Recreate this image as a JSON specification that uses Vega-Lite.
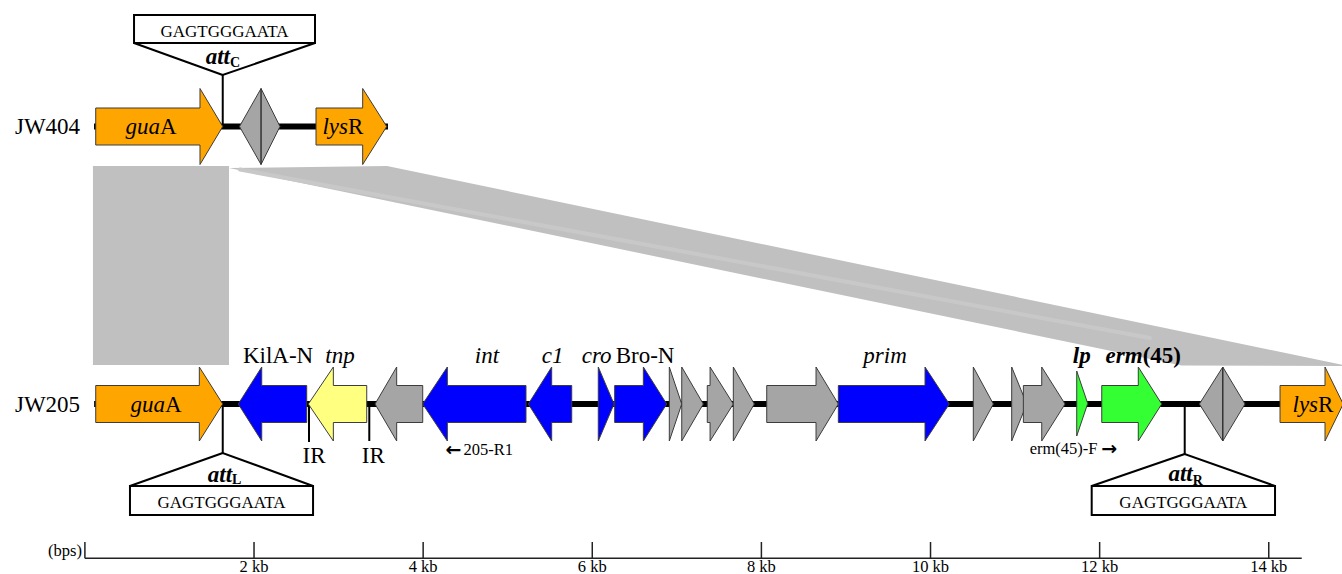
{
  "$schema": "https://vega.github.io/schema/vega-lite/v6.json",
  "width": 1342,
  "height": 574,
  "padding": 0,
  "autosize": {"type": "none"},
  "background": "white",
  "config": {"view": {"stroke": null}, "text": {"font": "Liberation Serif", "color": "black", "baseline": "alphabetic"}},
  "datasets": {
    "band": [
      {"g": "rect", "o": 1, "x": 95, "y": 166}, {"g": "rect", "o": 2, "x": 1704, "y": 166}, {"g": "rect", "o": 3, "x": 1704, "y": 365}, {"g": "rect", "o": 4, "x": 95, "y": 365},
      {"g": "quad", "o": 1, "x": 1704, "y": 168}, {"g": "quad", "o": 2, "x": 3573, "y": 166}, {"g": "quad", "o": 3, "x": 14880, "y": 365}, {"g": "quad", "o": 4, "x": 14880, "y": 366}, {"g": "quad", "o": 5, "x": 12970, "y": 365.5}
    ],
    "stripe": [
      {"o": 1, "x": 1834, "y": 169.5}, {"o": 2, "x": 12596, "y": 338}
    ],
    "backbone": [
      {"x": 108, "x2": 3584, "y": 126.5, "y2": 126.5},
      {"x": 109, "x2": 14880, "y": 404, "y2": 404}
    ],
    "attlines": [
      {"x": 1630, "x2": 1630, "y": 75, "y2": 126.5},
      {"x": 1630, "x2": 1630, "y": 404, "y2": 453},
      {"x": 13006, "x2": 13006, "y": 404, "y2": 454},
      {"x": 2650, "x2": 2650, "y": 404, "y2": 442},
      {"x": 3363, "x2": 3363, "y": 404, "y2": 441}
    ],
    "genes": [
      {"g": "guaA_t", "k": "orange", "o": 1, "x": 128, "y": 108}, {"g": "guaA_t", "k": "orange", "o": 2, "x": 1361, "y": 108}, {"g": "guaA_t", "k": "orange", "o": 3, "x": 1361, "y": 88.5}, {"g": "guaA_t", "k": "orange", "o": 4, "x": 1630, "y": 126.5}, {"g": "guaA_t", "k": "orange", "o": 5, "x": 1361, "y": 164.5}, {"g": "guaA_t", "k": "orange", "o": 6, "x": 1361, "y": 145}, {"g": "guaA_t", "k": "orange", "o": 7, "x": 128, "y": 145},
      {"g": "dia_t", "k": "gray", "o": 1, "x": 1828, "y": 126.5}, {"g": "dia_t", "k": "gray", "o": 2, "x": 2083, "y": 88.5}, {"g": "dia_t", "k": "gray", "o": 3, "x": 2307, "y": 126.5}, {"g": "dia_t", "k": "gray", "o": 4, "x": 2083, "y": 164.5},
      {"g": "lysR_t", "k": "orange", "o": 1, "x": 2733, "y": 108}, {"g": "lysR_t", "k": "orange", "o": 2, "x": 3285, "y": 108}, {"g": "lysR_t", "k": "orange", "o": 3, "x": 3285, "y": 88.5}, {"g": "lysR_t", "k": "orange", "o": 4, "x": 3569, "y": 126.5}, {"g": "lysR_t", "k": "orange", "o": 5, "x": 3285, "y": 164.5}, {"g": "lysR_t", "k": "orange", "o": 6, "x": 3285, "y": 145}, {"g": "lysR_t", "k": "orange", "o": 7, "x": 2733, "y": 145},

      {"g": "guaA_b", "k": "orange", "o": 1, "x": 128, "y": 385.5}, {"g": "guaA_b", "k": "orange", "o": 2, "x": 1353, "y": 385.5}, {"g": "guaA_b", "k": "orange", "o": 3, "x": 1353, "y": 367}, {"g": "guaA_b", "k": "orange", "o": 4, "x": 1630, "y": 404}, {"g": "guaA_b", "k": "orange", "o": 5, "x": 1353, "y": 441}, {"g": "guaA_b", "k": "orange", "o": 6, "x": 1353, "y": 422.5}, {"g": "guaA_b", "k": "orange", "o": 7, "x": 128, "y": 422.5},
      {"g": "kila", "k": "blue", "o": 1, "x": 1814, "y": 404}, {"g": "kila", "k": "blue", "o": 2, "x": 2091, "y": 367}, {"g": "kila", "k": "blue", "o": 3, "x": 2091, "y": 385.5}, {"g": "kila", "k": "blue", "o": 4, "x": 2623, "y": 385.5}, {"g": "kila", "k": "blue", "o": 5, "x": 2623, "y": 422.5}, {"g": "kila", "k": "blue", "o": 6, "x": 2091, "y": 422.5}, {"g": "kila", "k": "blue", "o": 7, "x": 2091, "y": 441},
      {"g": "tnp", "k": "yellow", "o": 1, "x": 2642, "y": 404}, {"g": "tnp", "k": "yellow", "o": 2, "x": 2938, "y": 367}, {"g": "tnp", "k": "yellow", "o": 3, "x": 2938, "y": 385.5}, {"g": "tnp", "k": "yellow", "o": 4, "x": 3333, "y": 385.5}, {"g": "tnp", "k": "yellow", "o": 5, "x": 3333, "y": 422.5}, {"g": "tnp", "k": "yellow", "o": 6, "x": 2938, "y": 422.5}, {"g": "tnp", "k": "yellow", "o": 7, "x": 2938, "y": 441},
      {"g": "g1", "k": "gray", "o": 1, "x": 3431, "y": 404}, {"g": "g1", "k": "gray", "o": 2, "x": 3687, "y": 367}, {"g": "g1", "k": "gray", "o": 3, "x": 3687, "y": 385.5}, {"g": "g1", "k": "gray", "o": 4, "x": 3995, "y": 385.5}, {"g": "g1", "k": "gray", "o": 5, "x": 3995, "y": 422.5}, {"g": "g1", "k": "gray", "o": 6, "x": 3687, "y": 422.5}, {"g": "g1", "k": "gray", "o": 7, "x": 3687, "y": 441},
      {"g": "int", "k": "blue", "o": 1, "x": 3995, "y": 404}, {"g": "int", "k": "blue", "o": 2, "x": 4286, "y": 367}, {"g": "int", "k": "blue", "o": 3, "x": 4286, "y": 385.5}, {"g": "int", "k": "blue", "o": 4, "x": 5216, "y": 385.5}, {"g": "int", "k": "blue", "o": 5, "x": 5216, "y": 422.5}, {"g": "int", "k": "blue", "o": 6, "x": 4286, "y": 422.5}, {"g": "int", "k": "blue", "o": 7, "x": 4286, "y": 441},
      {"g": "c1", "k": "blue", "o": 1, "x": 5244, "y": 404}, {"g": "c1", "k": "blue", "o": 2, "x": 5520, "y": 367}, {"g": "c1", "k": "blue", "o": 3, "x": 5520, "y": 385.5}, {"g": "c1", "k": "blue", "o": 4, "x": 5757, "y": 385.5}, {"g": "c1", "k": "blue", "o": 5, "x": 5757, "y": 422.5}, {"g": "c1", "k": "blue", "o": 6, "x": 5520, "y": 422.5}, {"g": "c1", "k": "blue", "o": 7, "x": 5520, "y": 441},
      {"g": "cro", "k": "blue", "o": 1, "x": 6071, "y": 367}, {"g": "cro", "k": "blue", "o": 2, "x": 6257, "y": 404}, {"g": "cro", "k": "blue", "o": 3, "x": 6071, "y": 441},
      {"g": "bron", "k": "blue", "o": 1, "x": 6265, "y": 385.5}, {"g": "bron", "k": "blue", "o": 2, "x": 6604, "y": 385.5}, {"g": "bron", "k": "blue", "o": 3, "x": 6604, "y": 367}, {"g": "bron", "k": "blue", "o": 4, "x": 6880, "y": 404}, {"g": "bron", "k": "blue", "o": 5, "x": 6604, "y": 441}, {"g": "bron", "k": "blue", "o": 6, "x": 6604, "y": 422.5}, {"g": "bron", "k": "blue", "o": 7, "x": 6265, "y": 422.5},
      {"g": "g2", "k": "gray", "o": 1, "x": 6911, "y": 367}, {"g": "g2", "k": "gray", "o": 2, "x": 7058, "y": 404}, {"g": "g2", "k": "gray", "o": 3, "x": 6911, "y": 441},
      {"g": "g3", "k": "gray", "o": 1, "x": 7058, "y": 367}, {"g": "g3", "k": "gray", "o": 2, "x": 7313, "y": 404}, {"g": "g3", "k": "gray", "o": 3, "x": 7058, "y": 441},
      {"g": "g4", "k": "gray", "o": 1, "x": 7360, "y": 385.5}, {"g": "g4", "k": "gray", "o": 2, "x": 7393, "y": 385.5}, {"g": "g4", "k": "gray", "o": 3, "x": 7393, "y": 367}, {"g": "g4", "k": "gray", "o": 4, "x": 7668, "y": 404}, {"g": "g4", "k": "gray", "o": 5, "x": 7393, "y": 441}, {"g": "g4", "k": "gray", "o": 6, "x": 7393, "y": 422.5}, {"g": "g4", "k": "gray", "o": 7, "x": 7360, "y": 422.5},
      {"g": "g5", "k": "gray", "o": 1, "x": 7668, "y": 367}, {"g": "g5", "k": "gray", "o": 2, "x": 7916, "y": 404}, {"g": "g5", "k": "gray", "o": 3, "x": 7668, "y": 441},
      {"g": "g6", "k": "gray", "o": 1, "x": 8063, "y": 385.5}, {"g": "g6", "k": "gray", "o": 2, "x": 8646, "y": 385.5}, {"g": "g6", "k": "gray", "o": 3, "x": 8646, "y": 367}, {"g": "g6", "k": "gray", "o": 4, "x": 8910, "y": 404}, {"g": "g6", "k": "gray", "o": 5, "x": 8646, "y": 441}, {"g": "g6", "k": "gray", "o": 6, "x": 8646, "y": 422.5}, {"g": "g6", "k": "gray", "o": 7, "x": 8063, "y": 422.5},
      {"g": "prim", "k": "blue", "o": 1, "x": 8910, "y": 385.5}, {"g": "prim", "k": "blue", "o": 2, "x": 9935, "y": 385.5}, {"g": "prim", "k": "blue", "o": 3, "x": 9935, "y": 367}, {"g": "prim", "k": "blue", "o": 4, "x": 10222, "y": 404}, {"g": "prim", "k": "blue", "o": 5, "x": 9935, "y": 441}, {"g": "prim", "k": "blue", "o": 6, "x": 9935, "y": 422.5}, {"g": "prim", "k": "blue", "o": 7, "x": 8910, "y": 422.5},
      {"g": "g7", "k": "gray", "o": 1, "x": 10506, "y": 367}, {"g": "g7", "k": "gray", "o": 2, "x": 10743, "y": 404}, {"g": "g7", "k": "gray", "o": 3, "x": 10506, "y": 441},
      {"g": "g8", "k": "gray", "o": 1, "x": 10960, "y": 367}, {"g": "g8", "k": "gray", "o": 2, "x": 11138, "y": 404}, {"g": "g8", "k": "gray", "o": 3, "x": 10960, "y": 441},
      {"g": "g9", "k": "gray", "o": 1, "x": 11098, "y": 385.5}, {"g": "g9", "k": "gray", "o": 2, "x": 11315, "y": 385.5}, {"g": "g9", "k": "gray", "o": 3, "x": 11315, "y": 367}, {"g": "g9", "k": "gray", "o": 4, "x": 11591, "y": 404}, {"g": "g9", "k": "gray", "o": 5, "x": 11315, "y": 441}, {"g": "g9", "k": "gray", "o": 6, "x": 11315, "y": 422.5}, {"g": "g9", "k": "gray", "o": 7, "x": 11098, "y": 422.5},
      {"g": "lp", "k": "green", "o": 1, "x": 11729, "y": 371}, {"g": "lp", "k": "green", "o": 2, "x": 11859, "y": 403.5}, {"g": "lp", "k": "green", "o": 3, "x": 11729, "y": 436},
      {"g": "erm", "k": "green", "o": 1, "x": 12025, "y": 385.5}, {"g": "erm", "k": "green", "o": 2, "x": 12457, "y": 385.5}, {"g": "erm", "k": "green", "o": 3, "x": 12457, "y": 367}, {"g": "erm", "k": "green", "o": 4, "x": 12734, "y": 404}, {"g": "erm", "k": "green", "o": 5, "x": 12457, "y": 441}, {"g": "erm", "k": "green", "o": 6, "x": 12457, "y": 422.5}, {"g": "erm", "k": "green", "o": 7, "x": 12025, "y": 422.5},
      {"g": "dia_b", "k": "gray", "o": 1, "x": 13179, "y": 404}, {"g": "dia_b", "k": "gray", "o": 2, "x": 13456, "y": 367}, {"g": "dia_b", "k": "gray", "o": 3, "x": 13719, "y": 404}, {"g": "dia_b", "k": "gray", "o": 4, "x": 13456, "y": 441},
      {"g": "lysR_b", "k": "orange", "o": 1, "x": 14133, "y": 385.5}, {"g": "lysR_b", "k": "orange", "o": 2, "x": 14665, "y": 385.5}, {"g": "lysR_b", "k": "orange", "o": 3, "x": 14665, "y": 367}, {"g": "lysR_b", "k": "orange", "o": 4, "x": 14880, "y": 404}, {"g": "lysR_b", "k": "orange", "o": 5, "x": 14665, "y": 441}, {"g": "lysR_b", "k": "orange", "o": 6, "x": 14665, "y": 422.5}, {"g": "lysR_b", "k": "orange", "o": 7, "x": 14133, "y": 422.5}
    ],
    "midlines": [
      {"x": 2083, "x2": 2083, "y": 88.5, "y2": 164.5},
      {"x": 13456, "x2": 13456, "y": 367, "y2": 441}
    ],
    "callouts": [
      {"g": "C", "o": 1, "x": 1630, "y": 75}, {"g": "C", "o": 2, "x": 581, "y": 43}, {"g": "C", "o": 3, "x": 2721, "y": 43},
      {"g": "L", "o": 1, "x": 1630, "y": 453}, {"g": "L", "o": 2, "x": 533, "y": 486}, {"g": "L", "o": 3, "x": 2698, "y": 486},
      {"g": "R", "o": 1, "x": 13006, "y": 454}, {"g": "R", "o": 2, "x": 11906, "y": 486}, {"g": "R", "o": 3, "x": 14074, "y": 486}
    ],
    "boxes": [
      {"x": 581, "x2": 2721, "y": 15, "y2": 43},
      {"x": 533, "x2": 2698, "y": 486, "y2": 515},
      {"x": 11906, "x2": 14074, "y": 486, "y2": 515}
    ],
    "axisline": [
      {"x": 0, "x2": 14390, "y": 558.3, "y2": 558.3}
    ],
    "ticks": [
      {"x": 0, "x2": 0, "y": 542, "y2": 558.3},
      {"x": 2000, "x2": 2000, "y": 542, "y2": 558.3},
      {"x": 4000, "x2": 4000, "y": 542, "y2": 558.3},
      {"x": 6000, "x2": 6000, "y": 542, "y2": 558.3},
      {"x": 8000, "x2": 8000, "y": 542, "y2": 558.3},
      {"x": 10000, "x2": 10000, "y": 542, "y2": 558.3},
      {"x": 12000, "x2": 12000, "y": 542, "y2": 558.3},
      {"x": 14000, "x2": 14000, "y": 542, "y2": 558.3}
    ],
    "t_reg_c": [
      {"t": "JW404", "x": -442, "y": 133.5},
      {"t": "JW205", "x": -442, "y": 411.5},
      {"t": "KilA-N", "x": 2284, "y": 363},
      {"t": "Bro-N", "x": 6624, "y": 363},
      {"t": "IR", "x": 2709, "y": 462.5},
      {"t": "IR", "x": 3411, "y": 462.5}
    ],
    "t_reg_l": [
      {"t": "A", "x": 888, "y": 133.5},
      {"t": "A", "x": 947, "y": 411.5},
      {"t": "R", "x": 3111, "y": 133.5},
      {"t": "R", "x": 14583, "y": 412}
    ],
    "t_it_r": [
      {"t": "gua", "x": 888, "y": 133.5},
      {"t": "gua", "x": 947, "y": 411.5},
      {"t": "lys", "x": 3111, "y": 133.5},
      {"t": "lys", "x": 14583, "y": 412}
    ],
    "t_it_c": [
      {"t": "tnp", "x": 3017, "y": 363},
      {"t": "int", "x": 4755, "y": 363},
      {"t": "c1", "x": 5532, "y": 363},
      {"t": "cro", "x": 6052, "y": 363},
      {"t": "prim", "x": 9462, "y": 363}
    ],
    "t_bi_c": [
      {"t": "lp", "x": 11788, "y": 363}
    ],
    "t_bi_r": [
      {"t": "erm", "x": 12509, "y": 363},
      {"t": "att", "x": 1716, "y": 63.5},
      {"t": "att", "x": 1740, "y": 481.5},
      {"t": "att", "x": 13100, "y": 480.5}
    ],
    "t_b_l": [
      {"t": "(45)", "x": 12509, "y": 363}
    ],
    "t_sub": [
      {"t": "C", "x": 1716, "y": 67},
      {"t": "L", "x": 1740, "y": 484},
      {"t": "R", "x": 13100, "y": 485}
    ],
    "t_seq": [
      {"t": "GAGTGGGAATA", "x": 1651, "y": 36.5},
      {"t": "GAGTGGGAATA", "x": 1615, "y": 508},
      {"t": "GAGTGGGAATA", "x": 12990, "y": 507.5}
    ],
    "t_primer": [
      {"t": "205-R1", "x": 4476, "y": 455},
      {"t": "erm(45)-F", "x": 11173, "y": 453.5}
    ],
    "t_arrow": [
      {"t": "←", "x": 4265, "y": 456},
      {"t": "→", "x": 12020, "y": 454.5}
    ],
    "t_unit": [
      {"t": "(bps)", "x": -34, "y": 555.5}
    ],
    "t_tick": [
      {"t": "2 kb", "x": 2000, "y": 571.5},
      {"t": "4 kb", "x": 4000, "y": 571.5},
      {"t": "6 kb", "x": 6000, "y": 571.5},
      {"t": "8 kb", "x": 8000, "y": 571.5},
      {"t": "10 kb", "x": 10000, "y": 571.5},
      {"t": "12 kb", "x": 12000, "y": 571.5},
      {"t": "14 kb", "x": 14000, "y": 571.5}
    ]
  },
  "encoding": {
    "x": {"field": "x", "type": "quantitative", "scale": {"domain": [-1004, 14866], "nice": false, "zero": false}, "axis": null},
    "y": {"field": "y", "type": "quantitative", "scale": {"domain": [0, 574], "reverse": true, "nice": false, "zero": false}, "axis": null}
  },
  "layer": [
    {
      "data": {"name": "band"},
      "mark": {"type": "line", "filled": true, "fill": "#c0c0c0", "strokeWidth": 0, "interpolate": "linear-closed"},
      "encoding": {"detail": {"field": "g"}, "order": {"field": "o"}}
    },
    {
      "data": {"name": "stripe"},
      "mark": {"type": "line", "stroke": "#c8c8c8", "strokeWidth": 4, "strokeCap": "round"},
      "encoding": {"order": {"field": "o"}}
    },
    {
      "data": {"name": "backbone"},
      "mark": {"type": "rule", "color": "black", "strokeWidth": 6},
      "encoding": {"x2": {"field": "x2"}, "y2": {"field": "y2"}}
    },
    {
      "data": {"name": "attlines"},
      "mark": {"type": "rule", "color": "black", "strokeWidth": 2},
      "encoding": {"x2": {"field": "x2"}, "y2": {"field": "y2"}}
    },
    {
      "data": {"name": "genes"},
      "mark": {"type": "line", "filled": true, "stroke": "#3c3c3c", "strokeWidth": 1, "strokeJoin": "miter", "interpolate": "linear-closed"},
      "encoding": {
        "detail": {"field": "g"},
        "order": {"field": "o"},
        "color": {"field": "k", "type": "nominal", "legend": null,
          "scale": {"domain": ["orange", "gray", "blue", "yellow", "green"], "range": ["#FFA500", "#A5A5A5", "#0000FF", "#FFFF80", "#33FF33"]}}
      }
    },
    {
      "data": {"name": "midlines"},
      "mark": {"type": "rule", "color": "#333333", "strokeWidth": 1.5},
      "encoding": {"x2": {"field": "x2"}, "y2": {"field": "y2"}}
    },
    {
      "data": {"name": "callouts"},
      "mark": {"type": "line", "filled": true, "fill": "white", "stroke": "black", "strokeWidth": 2, "interpolate": "linear-closed"},
      "encoding": {"detail": {"field": "g"}, "order": {"field": "o"}}
    },
    {
      "data": {"name": "boxes"},
      "mark": {"type": "rect", "fill": "white", "stroke": "black", "strokeWidth": 2},
      "encoding": {"x2": {"field": "x2"}, "y2": {"field": "y2"}}
    },
    {
      "data": {"name": "axisline"},
      "mark": {"type": "rule", "color": "#222222", "strokeWidth": 1.5},
      "encoding": {"x2": {"field": "x2"}, "y2": {"field": "y2"}}
    },
    {
      "data": {"name": "ticks"},
      "mark": {"type": "rule", "color": "#222222", "strokeWidth": 1.5},
      "encoding": {"x2": {"field": "x2"}, "y2": {"field": "y2"}}
    },
    {
      "data": {"name": "t_reg_c"},
      "mark": {"type": "text", "fontSize": 23, "align": "center"},
      "encoding": {"text": {"field": "t"}}
    },
    {
      "data": {"name": "t_reg_l"},
      "mark": {"type": "text", "fontSize": 23, "align": "left"},
      "encoding": {"text": {"field": "t"}}
    },
    {
      "data": {"name": "t_it_r"},
      "mark": {"type": "text", "fontSize": 23, "align": "right", "fontStyle": "italic"},
      "encoding": {"text": {"field": "t"}}
    },
    {
      "data": {"name": "t_it_c"},
      "mark": {"type": "text", "fontSize": 23, "align": "center", "fontStyle": "italic"},
      "encoding": {"text": {"field": "t"}}
    },
    {
      "data": {"name": "t_bi_c"},
      "mark": {"type": "text", "fontSize": 23, "align": "center", "fontStyle": "italic", "fontWeight": "bold"},
      "encoding": {"text": {"field": "t"}}
    },
    {
      "data": {"name": "t_bi_r"},
      "mark": {"type": "text", "fontSize": 23, "align": "right", "fontStyle": "italic", "fontWeight": "bold"},
      "encoding": {"text": {"field": "t"}}
    },
    {
      "data": {"name": "t_b_l"},
      "mark": {"type": "text", "fontSize": 23, "align": "left", "fontWeight": "bold"},
      "encoding": {"text": {"field": "t"}}
    },
    {
      "data": {"name": "t_sub"},
      "mark": {"type": "text", "fontSize": 14, "align": "left", "fontWeight": "bold"},
      "encoding": {"text": {"field": "t"}}
    },
    {
      "data": {"name": "t_seq"},
      "mark": {"type": "text", "fontSize": 17, "align": "center"},
      "encoding": {"text": {"field": "t"}}
    },
    {
      "data": {"name": "t_primer"},
      "mark": {"type": "text", "fontSize": 16.5, "align": "left"},
      "encoding": {"text": {"field": "t"}}
    },
    {
      "data": {"name": "t_arrow"},
      "mark": {"type": "text", "fontSize": 19, "align": "left", "font": "DejaVu Sans", "fontWeight": "bold"},
      "encoding": {"text": {"field": "t"}}
    },
    {
      "data": {"name": "t_unit"},
      "mark": {"type": "text", "fontSize": 16.5, "align": "right"},
      "encoding": {"text": {"field": "t"}}
    },
    {
      "data": {"name": "t_tick"},
      "mark": {"type": "text", "fontSize": 16.5, "align": "center"},
      "encoding": {"text": {"field": "t"}}
    }
  ]
}
